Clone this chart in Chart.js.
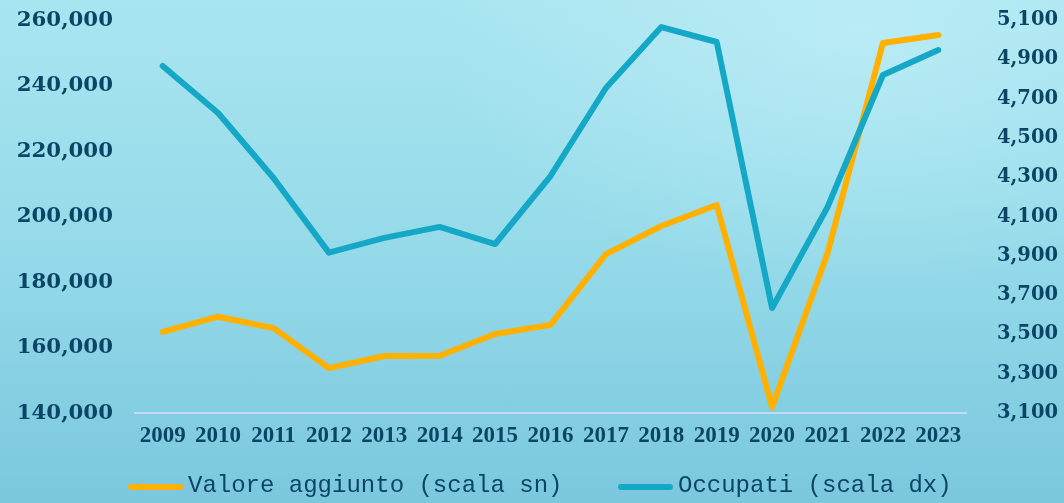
<!DOCTYPE html>
<html>
<head>
<meta charset="utf-8">
<script src="https://cdn.jsdelivr.net/npm/chart.js@4.4.1/dist/chart.umd.min.js"></script>
<style>
  html, body { margin: 0; padding: 0; }
  body {
    width: 1064px; height: 503px; overflow: hidden;
    background:
      radial-gradient(ellipse 420px 260px at 860px 30px, rgba(200,242,250,0.55), rgba(200,242,250,0) 100%),
      linear-gradient(to bottom, #a9e5f0 0%, #95dae9 50%, #7ac7de 100%);
  }
  #wrap { position: relative; width: 1064px; height: 503px; }
</style>
</head>
<body>
<div id="wrap"><canvas id="chart" width="1064" height="503"></canvas></div>
<script>
const years = ['2009', '2010', '2011', '2012', '2013', '2014', '2015', '2016',
               '2017', '2018', '2019', '2020', '2021', '2022', '2023'];
// Valore aggiunto (scala sn)
const valoreAggiunto = [164800, 169400, 165900, 153700, 157400, 157500, 164100, 166900,
                        188500, 197100, 203500, 141800, 188800, 253000, 255400];
// Occupati (scala dx)
const occupati = [4866, 4627, 4296, 3916, 3991, 4047, 3960, 4306,
                  4754, 5064, 4988, 3634, 4148, 4820, 4947];

const leftMin = 140000, leftMax = 260000, leftStep = 20000;
const rightMin = 3100, rightMax = 5100, rightStep = 200;

const textColor = '#0b4566';

function fmt(v) {
    return v.toLocaleString('en-US');
}

// legend drawn under the axis, line + monospace text per dataset
const bottomLegend = {
    id: 'bottomLegend',
    afterDraw(chart) {
        const c = chart.ctx;
        const starts = [128, 618];
        c.save();
        c.font = '24px "Liberation Mono", "DejaVu Sans Mono", monospace';
        c.textBaseline = 'middle';
        chart.data.datasets.forEach((ds, i) => {
            const x = starts[i];
            c.strokeStyle = ds.borderColor;
            c.lineWidth = 6;
            c.lineCap = 'round';
            c.beginPath();
            c.moveTo(x + 3, 487);
            c.lineTo(x + 52, 487);
            c.stroke();
            c.fillStyle = textColor;
            c.fillText(ds.label, x + 60, 486);
        });
        c.restore();
    }
};

const ctx = document.getElementById('chart').getContext('2d');
new Chart(ctx, {
    type: 'line',
    data: {
        labels: years,
        datasets: [{
            label: 'Valore aggiunto (scala sn)',
            data: valoreAggiunto,
            yAxisID: 'y',
            borderColor: '#ffb000',
            backgroundColor: '#ffb000',
            borderWidth: 6,
            borderCapStyle: 'round',
            borderJoinStyle: 'round',
            pointRadius: 0,
            tension: 0,
            order: 1
        }, {
            label: 'Occupati (scala dx)',
            data: occupati,
            yAxisID: 'y1',
            borderColor: '#14a8c6',
            backgroundColor: '#14a8c6',
            borderWidth: 6,
            borderCapStyle: 'round',
            borderJoinStyle: 'round',
            pointRadius: 0,
            tension: 0,
            order: 0
        }]
    },
    options: {
        responsive: false,
        animation: false,
        layout: {
            padding: { top: 20, bottom: 44, left: 0, right: 0 }
        },
        plugins: {
            tooltip: { enabled: false },
            legend: { display: false }
        },
        scales: {
            x: {
                offset: true,
                grid: { display: false, drawTicks: false },
                border: { display: true, color: '#c3d9f7', width: 2 },
                ticks: {
                    color: textColor,
                    padding: 9,
                    maxRotation: 0,
                    autoSkip: false,
                    font: { family: '"Liberation Serif", serif', size: 23, weight: 'bold' }
                },
                afterFit: (scale) => {
                    scale.height = 46;
                    scale.paddingLeft = 0;
                    scale.paddingRight = 0;
                }
            },
            y: {
                position: 'left',
                min: leftMin,
                max: leftMax,
                grid: { display: false, drawTicks: false },
                border: { display: false },
                ticks: {
                    stepSize: leftStep,
                    color: textColor,
                    padding: 22,
                    callback: (v) => fmt(v),
                    font: { family: '"DejaVu Serif", serif', size: 21.3, weight: 'bold' }
                },
                afterFit: (scale) => {
                    scale.width = 135;
                    scale.paddingTop = 0;
                    scale.paddingBottom = 0;
                }
            },
            y1: {
                position: 'right',
                min: rightMin,
                max: rightMax,
                grid: { display: false, drawTicks: false },
                border: { display: false },
                ticks: {
                    stepSize: rightStep,
                    color: textColor,
                    padding: 31,
                    callback: (v) => fmt(v),
                    font: { family: '"DejaVu Serif", serif', size: 19.5, weight: 'bold' }
                },
                afterFit: (scale) => {
                    scale.width = 98;
                    scale.paddingTop = 0;
                    scale.paddingBottom = 0;
                }
            }
        }
    },
    plugins: [bottomLegend]
});
</script>
</body>
</html>
